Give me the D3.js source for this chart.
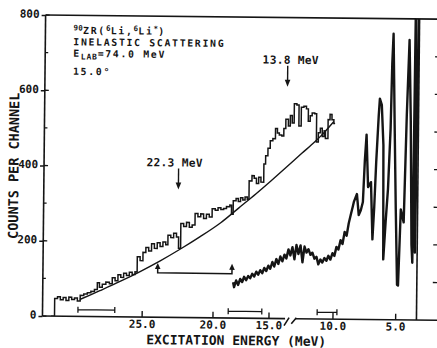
<!DOCTYPE html>
<html><head><meta charset="utf-8">
<script src="https://cdn.jsdelivr.net/npm/d3@7/dist/d3.min.js"></script>
<style>
html,body{margin:0;padding:0;background:#fff;}
svg{display:block;}
text{font-family:"DejaVu Sans Mono","Liberation Mono",monospace;fill:#151515;font-weight:bold;}
</style></head>
<body>
<svg id="chart" width="437" height="348"></svg>
<script>
// ---------- data ----------
const yTicks = [0, 200, 400, 600, 800];
const yMinorTicks = [100, 300, 500, 700];
const rightTicks = [100, 200, 300, 400, 500, 600, 700];
const xTicks = [25, 20, 15, 10, 5];
const xTickLabels = ["25.0", "20.0", "15.0", "10.0", "5.0"];

// upper spectrum (histogram, MeV / counts)
const upperE = [31.40,31.15,30.95,30.75,30.55,30.35,30.15,29.95,29.75,29.55,
 29.35,29.10,28.85,28.60,28.35,28.15,28.00,27.80,27.55,27.30,
 27.10,26.90,26.70,26.50,26.30,26.10,25.90,25.70,25.50,25.35,
 25.15,24.95,24.75,24.55,24.35,24.15,23.95,23.75,23.55,23.35,
 23.20,23.00,22.80,22.60,22.45,22.30,22.10,21.90,21.70,21.50,
 21.30,21.10,20.90,20.70,20.50,20.30,20.10,19.85,19.60,19.35,
 19.10,18.85,18.55,18.40,18.25,18.00,17.80,17.60,17.40,17.20,
 17.00,16.85,16.60,16.40,16.20,16.00,15.80,15.55,15.40,15.20,
 15.00,14.80,14.60,14.45,14.30,14.10,13.95,13.80,13.60,13.45,
 13.30,13.15,12.95,12.78,12.60,12.40,12.20,12.05,11.90,11.75,
 11.55,11.40,11.25,11.10,10.95,10.80,10.70,10.50,10.35,10.20,
 10.05,9.95];
const upperCounts = [0,47,52,44,50,42,51,45,49,41,
 56,60,63,67,72,90,78,86,92,88,
 104,96,112,105,116,110,119,113,120,160,
 150,172,185,176,195,183,198,188,200,193,
 218,212,224,214,184,250,242,253,240,246,
 277,268,276,264,275,268,290,286,293,288,
 291,296,300,276,312,318,310,320,314,322,
 316,365,379,372,358,375,362,410,432,452,
 472,478,505,493,488,485,505,530,512,540,
 520,571,568,512,562,565,558,525,540,547,
 545,470,495,507,485,500,480,530,544,530,
 520,520];

// smooth background curve
const bgE = [29.38,27.97,26.55,25.14,23.73,22.31,20.9,19.35,17.74,16.22,14.9,13.73,12.55,11.54,10.84,10.05];
const bgCounts = [45,69,94,121,150,182,216,253,293,331,366,402,439,470,494,525];

// lower (shifted) spectrum
const lowerE = [18.19,18.10,17.92,17.74,17.56,17.38,17.21,17.03,16.85,16.67,16.49,16.31,16.13,15.96,15.78,15.60,15.42,15.24,15.06,14.90,
 14.74,14.59,14.43,14.27,14.12,13.96,13.80,13.65,13.49,13.34,13.18,13.02,12.87,12.71,12.55,12.39,12.24,12.08,11.93,11.77,
 11.62,11.46,11.30,11.15,10.99,10.84,10.68,10.52,10.37,10.21,10.05,9.90,9.74,9.58,9.42,9.26,9.10,8.94,8.78,8.63,
 8.47,8.39,8.15,7.99,7.83,7.67,7.55,7.43,7.35,7.27,7.04,6.88,6.76,6.64,6.48,6.40,6.24,6.08,6.00,5.84,
 5.68,5.52,5.44,5.36,5.28,5.20,5.04,4.88,4.80,4.64,4.40,4.24,4.08,3.92,3.76,3.68,3.60,3.48,3.36];
const lowerCounts = [95,82,100,88,104,96,110,101,112,106,118,111,124,116,128,120,134,126,140,132,
 150,138,158,145,165,152,170,160,184,168,190,158,196,172,195,150,192,176,185,170,
 176,160,165,145,158,150,162,155,168,158,175,168,192,185,210,200,232,222,255,277,
 300,312,333,277,290,312,420,491,420,352,365,213,300,419,540,587,571,464,160,260,
 347,507,680,760,640,517,293,93,91,293,259,544,744,533,200,152,850,179,850];

// annotations
const arrowE = [22.5, 13.7];
const arrowTipCounts = [340, 616];
const arrowLabels = ["22.3 MeV", "13.8 MeV"];
const shiftE = [23.9, 18.3];
const shiftLevel = 118, shiftTip = 144;
const resE0 = [29.5, 18.6, 11.2];
const resE1 = [26.9, 15.6, 9.65];
const resLevel = 18;
const axisBreakE = [13.7, 12.9];

// ---------- drawing ----------
const ink = "#151515";
const svg = d3.select("#chart");
const x = d3.scaleLinear().domain([32, 20, 15, 10, 3.3]).range([44, 214, 270, 334, 418]);
const y = d3.scaleLinear().domain([0, 800]).range([318, 17]);
const X0 = x(32), X1 = x(3.3), Y0 = y(0), Y1 = y(800);

svg.append("defs").append("clipPath").attr("id", "clip").append("rect")
  .attr("x", X0).attr("y", Y1).attr("width", X1 - X0).attr("height", Y0 - Y1);

const g = svg.append("g").attr("transform", "rotate(0.6,230,170)");
const plot = g.append("g").attr("clip-path", "url(#clip)");

const pts = (E, C) => E.map((e, i) => [e, C[i]]);

plot.append("path").datum(pts(bgE, bgCounts))
  .attr("d", d3.line().x(d => x(d[0])).y(d => y(d[1])).curve(d3.curveCatmullRom.alpha(0.5)))
  .attr("fill", "none").attr("stroke", ink).attr("stroke-width", 1.4);

plot.append("path").datum(pts(upperE, upperCounts))
  .attr("d", d3.line().x(d => x(d[0])).y(d => y(d[1])).curve(d3.curveStepAfter))
  .attr("fill", "none").attr("stroke", ink).attr("stroke-width", 1.5);

plot.append("path").datum(pts(lowerE, lowerCounts))
  .attr("d", d3.line().x(d => x(d[0])).y(d => y(d[1])))
  .attr("fill", "none").attr("stroke", ink).attr("stroke-width", 2.4)
  .attr("stroke-linejoin", "round");

// frame
const fr = g.append("g").attr("stroke", ink).attr("stroke-width", 1.6).attr("fill", "none");
fr.append("line").attr("x1", X0).attr("x2", X0).attr("y1", Y1).attr("y2", Y0);
fr.append("line").attr("x1", X0).attr("x2", 446).attr("y1", Y1).attr("y2", Y1);
fr.append("line").attr("x1", X1).attr("x2", X1).attr("y1", Y1).attr("y2", Y0);
fr.append("line").attr("x1", X0).attr("x2", x(axisBreakE[0])).attr("y1", Y0).attr("y2", Y0);
fr.append("line").attr("x1", x(axisBreakE[1])).attr("x2", 446).attr("y1", Y0).attr("y2", Y0);
const bx0 = x(axisBreakE[0]), bx1 = x(axisBreakE[1]);
fr.append("path").attr("d", `M${bx0-1},${Y0+7}L${bx0+4},${Y0-1}M${bx1-4},${Y0+5}L${bx1+1},${Y0-1}`);

// x axis ticks and labels
const xAxis = d3.axisBottom(x).tickValues(xTicks).tickFormat((d, i) => xTickLabels[i])
  .tickSizeInner(-6).tickSizeOuter(0).tickPadding(3);
const gx = g.append("g").attr("transform", `translate(0,${Y0})`).call(xAxis);
gx.select(".domain").remove();
gx.attr("font-family", null).attr("font-size", null);
gx.selectAll("line").attr("stroke", ink).attr("stroke-width", 1.4);
gx.selectAll("text").attr("font-size", 11).attr("fill", ink);

// y axis
const yAxis = d3.axisLeft(y).tickValues(yTicks).tickSize(4).tickPadding(2);
const gy = g.append("g").attr("transform", `translate(${X0},0)`).call(yAxis);
gy.select(".domain").remove();
gy.attr("font-family", null).attr("font-size", null);
gy.selectAll("line").attr("stroke", ink).attr("stroke-width", 1.4);
gy.selectAll("text").attr("font-size", 11).attr("fill", ink).attr("dy", "0.2em");
gy.selectAll(".inner").data(yTicks).enter().append("line")
  .attr("x1", 0).attr("x2", 4).attr("y1", d => y(d)).attr("y2", d => y(d))
  .attr("stroke", ink).attr("stroke-width", 1.4);
gy.selectAll(".minor").data(yMinorTicks).enter().append("line")
  .attr("x1", 0).attr("x2", 3).attr("y1", d => y(d)).attr("y2", d => y(d))
  .attr("stroke", ink).attr("stroke-width", 1.2);

// right side ticks
g.selectAll(".rt").data(rightTicks).enter().append("line")
  .attr("x1", 434).attr("x2", 440).attr("y1", d => y(d)).attr("y2", d => y(d))
  .attr("stroke", ink).attr("stroke-width", 1.3);

// axis titles
g.append("text").attr("transform", `translate(18.5,${(Y0 + Y1) / 2 + 0.5}) rotate(-90)`)
  .attr("text-anchor", "middle").attr("font-size", 13.5).text("COUNTS PER CHANNEL");
g.append("text").attr("x", 238).attr("y", 345).attr("text-anchor", "middle")
  .attr("font-size", 13).text("EXCITATION ENERGY (MeV)");

// top-left annotation
const ann = g.append("g").attr("font-size", 9.8).attr("letter-spacing", 1.7);
const l1 = ann.append("text").attr("x", 72).attr("y", 35.5);
l1.append("tspan").attr("font-size", 7.5).attr("letter-spacing", 0.3).attr("dy", -3.5).text("90");
l1.append("tspan").attr("dy", 3.5).text("ZR(");
l1.append("tspan").attr("font-size", 7.5).attr("letter-spacing", 0.3).attr("dy", -3.5).text("6");
l1.append("tspan").attr("dy", 3.5).text("Li,");
l1.append("tspan").attr("font-size", 7.5).attr("letter-spacing", 0.3).attr("dy", -3.5).text("6");
l1.append("tspan").attr("dy", 3.5).text("Li");
l1.append("tspan").attr("font-size", 7.5).attr("letter-spacing", 0.3).attr("dy", -3.5).text("*");
l1.append("tspan").attr("dy", 3.5).text(")");
ann.append("text").attr("x", 72).attr("y", 47).text("INELASTIC SCATTERING");
const l3 = ann.append("text").attr("x", 72).attr("y", 58.5);
l3.append("tspan").text("E");
l3.append("tspan").attr("font-size", 8).attr("letter-spacing", 0.8).attr("dy", 2.5).text("LAB");
l3.append("tspan").attr("dy", -2.5).text("=74.0 MeV");
ann.append("text").attr("x", 72).attr("y", 76.5).text("15.0°");

// energy arrows
const labelDx = [-4, 3];
arrowE.forEach((e, i) => {
  const ax = x(e), tip = y(arrowTipCounts[i]);
  g.append("line").attr("x1", ax).attr("x2", ax).attr("y1", tip - 21).attr("y2", tip - 5)
    .attr("stroke", ink).attr("stroke-width", 1.4);
  g.append("path").attr("d", `M${ax - 2.8},${tip - 7}L${ax + 2.8},${tip - 7}L${ax},${tip}Z`).attr("fill", ink);
  g.append("text").attr("x", ax + labelDx[i]).attr("y", tip - 23).attr("text-anchor", "middle")
    .attr("font-size", 11.2).attr("letter-spacing", 0.3).text(arrowLabels[i]);
});

// shift arrow (double headed)
const sx0 = x(shiftE[0]), sx1 = x(shiftE[1]), sy = y(shiftLevel), st = y(shiftTip);
g.append("path").attr("d", `M${sx0},${st + 5}L${sx0},${sy}L${sx1},${sy}L${sx1},${st + 5}`)
  .attr("fill", "none").attr("stroke", ink).attr("stroke-width", 1.5);
[sx0, sx1].forEach(px => g.append("path")
  .attr("d", `M${px - 2.8},${st + 6}L${px + 2.8},${st + 6}L${px},${st}Z`).attr("fill", ink));

// resolution bars
resE0.forEach((e, i) => {
  const a = x(e), b = x(resE1[i]), ry = y(resLevel);
  g.append("path").attr("d", `M${a},${ry - 3}L${a},${ry + 3}M${a},${ry}L${b},${ry}M${b},${ry - 3}L${b},${ry + 3}`)
    .attr("fill", "none").attr("stroke", ink).attr("stroke-width", 1.3);
});
</script>
</body></html>
